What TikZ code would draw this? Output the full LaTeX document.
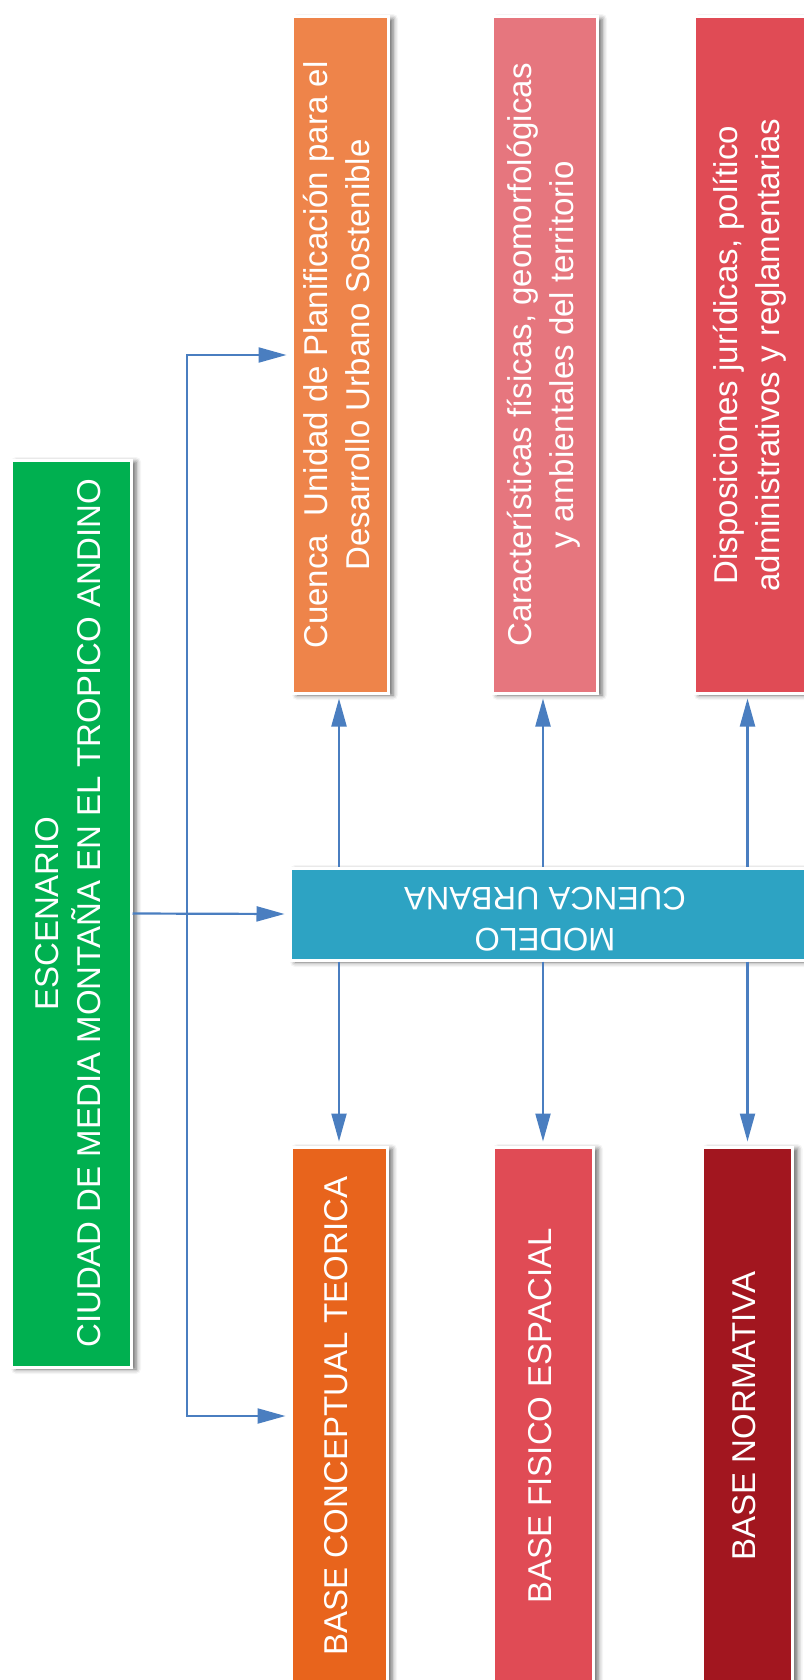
\documentclass[tikz,border=0pt]{standalone}
\usepackage{fontspec}
\setmainfont{Liberation Sans}
\usetikzlibrary{arrows.meta,shadows.blur,calc}

\definecolor{verde}{HTML}{00B050}
\definecolor{naranjaclaro}{HTML}{EE844A}
\definecolor{rosa}{HTML}{E6767E}
\definecolor{rojo}{HTML}{E04B55}
\definecolor{turquesa}{HTML}{2DA3C3}
\definecolor{naranja}{HTML}{E8641C}
\definecolor{granate}{HTML}{A2161F}
\definecolor{azul}{HTML}{4A7EC0}

\newcommand{\vtexto}[1]{\rotatebox{90}{\begin{tabular}{@{}c@{}}#1\end{tabular}}}

\begin{document}
\begin{tikzpicture}[x=1pt,y=-1pt,
  caja/.style={draw=white, line width=3pt, inner sep=0pt, text=white,
    font=\fontsize{33}{42}\selectfont,
    blur shadow={shadow xshift=5pt, shadow yshift=-2pt,
      shadow blur radius=5pt, shadow opacity=60}},
  punta/.tip={Triangle[length=28pt,width=15pt]},
  flecha/.style={draw=azul, line width=2.2pt, -punta, shorten >=4pt},
  dobleflecha/.style={draw=azul, line width=2.2pt, punta-punta,
    shorten >=4pt, shorten <=4pt}]

\useasboundingbox (0,0) rectangle (803,1680);

% scenario box
\node[caja, fill=verde, minimum width=120pt, minimum height=907pt] (G) at (71,913.5)
  {\vtexto{ESCENARIO\\CIUDAD DE MEDIA MONTAÑA EN EL TROPICO ANDINO}};

% upper row
\node[caja, fill=naranjaclaro, minimum width=96pt, minimum height=676pt] (C1) at (340,355)
  {\vtexto{Cuenca~~Unidad de Planificación para el\\Desarrollo Urbano Sostenible}};
\node[caja, fill=rosa, minimum width=105pt, minimum height=676pt] (C2) at (544.5,355)
  {\vtexto{Características físicas, geomorfológicas\\y ambientales del territorio}};
\node[caja, fill=rojo, minimum width=112pt, minimum height=676pt] (C3) at (750,355)
  {\vtexto{Disposiciones jurídicas, político\\administrativos y reglamentarias}};

% central model box
\node[caja, fill=turquesa, minimum width=518pt, minimum height=92pt] (M) at (549,914) {};
\node[text=white, font=\fontsize{32.5}{41}\selectfont, inner sep=0pt] (Mt) at (545,916)
  {\rotatebox{180}{\begin{tabular}{@{}c@{}}MODELO\\CUENCA URBANA\end{tabular}}};

% lower row
\node[caja, fill=naranja, minimum width=96pt, minimum height=538pt] (B1) at (339,1416)
  {\vtexto{BASE CONCEPTUAL TEORICA}};
\node[caja, fill=rojo, minimum width=100pt, minimum height=538pt] (B2) at (543,1416)
  {\vtexto{BASE FISICO ESPACIAL}};
\node[caja, fill=granate, minimum width=90pt, minimum height=538pt] (B3) at (747.5,1416)
  {\vtexto{BASE NORMATIVA}};

% connectors
\coordinate (T) at (187,913.5);
\draw[flecha] (G.east) -- (M.west);
\draw[dobleflecha] (C1.west) -- (T |- C1.west) -- (T |- B1.west) -- (B1.west);

\draw[flecha] (M.north -| B1.north) -- (B1.north |- C1.south);
\draw[flecha] (M.north -| B2.north) -- (B2.north |- C2.south);
\draw[flecha] (M.north -| B3.north) -- (B3.north |- C3.south);

\draw[flecha] (M.south -| B1.north) -- (B1.north);
\draw[flecha] (M.south -| B2.north) -- (B2.north);
\draw[flecha] (M.south -| B3.north) -- (B3.north);
\end{tikzpicture}
\end{document}
